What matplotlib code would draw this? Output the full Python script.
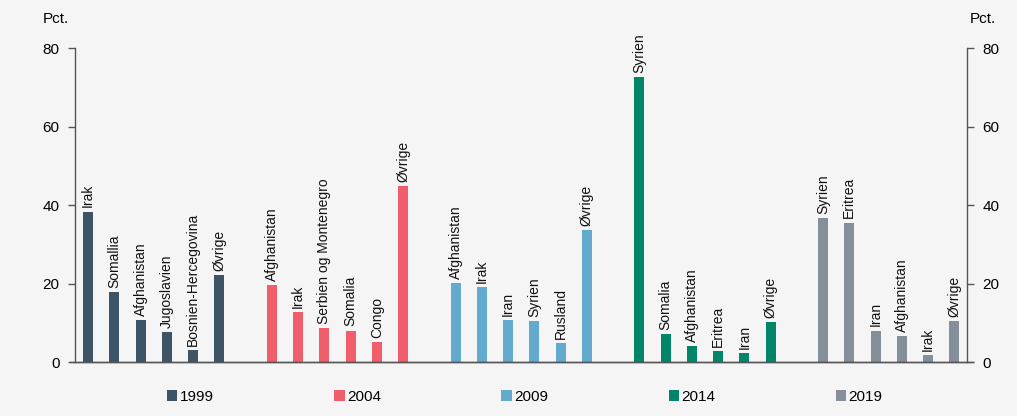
import numpy as np
import matplotlib
matplotlib.use("Agg")
from matplotlib import pyplot as plt
from matplotlib.patches import Patch

plt.rcParams["font.family"] = ["Liberation Sans", "DejaVu Sans"]

# top countries of origin per year, share in pct.
years = ["1999", "2004", "2009", "2014", "2019"]
countries_1999 = ["Irak", "Somallia", "Afghanistan", "Jugoslavien", "Bosnien-Hercegovina", "Øvrige"]
values_1999 = [38.4, 17.9, 10.7, 7.8, 3.2, 22.3]
countries_2004 = ["Afghanistan", "Irak", "Serbien og Montenegro", "Somalia", "Congo", "Øvrige"]
values_2004 = [19.6, 12.8, 8.8, 8.1, 5.2, 44.9]
countries_2009 = ["Afghanistan", "Irak", "Iran", "Syrien", "Rusland", "Øvrige"]
values_2009 = [20.2, 19.1, 10.7, 10.6, 4.9, 33.7]
countries_2014 = ["Syrien", "Somalia", "Afghanistan", "Eritrea", "Iran", "Øvrige"]
values_2014 = [72.7, 7.2, 4.1, 2.9, 2.4, 10.2]
countries_2019 = ["Syrien", "Eritrea", "Iran", "Afghanistan", "Irak", "Øvrige"]
values_2019 = [36.8, 35.6, 8.1, 6.7, 1.9, 10.6]

colors = ["#3D5467", "#EF5E6A", "#63ABCE", "#008568", "#858F99"]
bg = "#F5F5F5"
axis_color = "#555555"

groups = [
    (countries_1999, values_1999),
    (countries_2004, values_2004),
    (countries_2009, values_2009),
    (countries_2014, values_2014),
    (countries_2019, values_2019),
]

fig = plt.figure(figsize=(10.17, 4.16), dpi=100, facecolor=bg)
ax = fig.add_axes([0.0737, 0.129, 0.8776, 0.755], facecolor=bg)

handles = []
pos = 0
for (names, vals), year, col in zip(groups, years, colors):
    x = np.arange(pos, pos + len(vals))
    ax.bar(x, vals, width=0.38, color=col, zorder=2)
    for xi, v, name in zip(x, vals, names):
        ax.annotate(name, (xi, v), xytext=(0, 3), textcoords="offset points",
                    rotation=90, ha="center", va="bottom", fontsize=10, color="#111111")
    handles.append(Patch(facecolor=col, label=year))
    pos += len(vals) + 1

ax.set_xlim(-0.5, pos - 1.5)
ax.set_ylim(0, 80)
ax.set_yticks([0, 20, 40, 60, 80])
ax.set_xticks([])

ax.spines["top"].set_visible(False)
for s in ["left", "right", "bottom"]:
    ax.spines[s].set_color(axis_color)
    ax.spines[s].set_linewidth(1.0)
ax.plot([-0.006, 1.006], [0, 0], transform=ax.transAxes, clip_on=False,
        color=axis_color, lw=1.0, zorder=3)

ax.tick_params(axis="y", which="both", left=True, right=True, labelleft=True,
               labelright=True, direction="out", length=5, width=1.0,
               color=axis_color, labelsize=11, pad=6)

fig.text(56 / 1017, 1 - 19 / 416, "Pct.", ha="center", va="center", fontsize=11)
fig.text(983 / 1017, 1 - 19 / 416, "Pct.", ha="center", va="center", fontsize=11)

fig.legend(handles=handles, loc="center", ncol=5, mode="expand",
           bbox_to_anchor=(0.158, 1 - 397 / 416 - 0.03, 0.716, 0.06),
           frameon=False, fontsize=11, handlelength=0.7, handleheight=0.7,
           handletextpad=0.15, borderaxespad=0)

fig.savefig("out.png", dpi=100, facecolor=bg)
